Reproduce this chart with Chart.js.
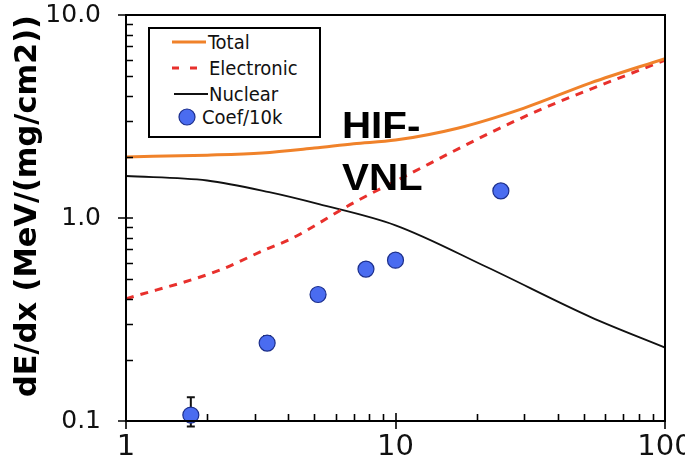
<!DOCTYPE html>
<html>
<head>
<meta charset="utf-8">
<script src="https://cdn.jsdelivr.net/npm/chart.js@4.4.1/dist/chart.umd.min.js"></script>
<style>
  html, body { margin: 0; padding: 0; background: #fff; overflow: hidden; }
  #wrap { position: relative; width: 720px; height: 476px; }
  #legend { position: absolute; left: 148px; top: 27px; width: 169px; height: 107px;
            border: 2px solid #000; background: #fff; font-family: 'DejaVu Sans Condensed', 'DejaVu Sans', sans-serif;
            font-size: 20px; color: #111; }
  .row { position: absolute; left: 0; height: 24px; line-height: 24px; white-space: nowrap; }
  .row svg { position: absolute; top: 0; }
  .row span { position: absolute; top: 0; }
  #note { position: absolute; left: 342px; top: 100px; font-family: 'Liberation Sans', Arial, sans-serif;
          font-weight: bold; font-size: 36px; line-height: 52px; color: #000;
          transform: scaleX(1.12); transform-origin: 0 0; }
</style>
</head>
<body>
<div id="wrap">
  <canvas id="c" width="720" height="476"></canvas>
  <div id="legend"></div>
  <div id="note">HIF-<br>VNL</div>
</div>
<script>
// ---- data ----
const xTickValues = [1, 10, 100];
const xTickLabels = ['1', '10', '100'];
const yTickValues = [0.1, 1, 10];
const yTickLabels = ['0.1', '1.0', '10.0'];

const seriesNames = ['Total', 'Electronic', 'Nuclear', 'Coef/10k'];

const totalX = [1, 2, 3.2, 5, 7, 10, 17, 30, 53, 100];
const totalY = [2.00, 2.04, 2.09, 2.21, 2.32, 2.42, 2.77, 3.48, 4.63, 6.1];

const elecX = [1, 2.2, 3.3, 4.1, 7, 10, 30, 100];
const elecY = [0.40, 0.55, 0.70, 0.79, 1.19, 1.52, 3.15, 6.0];

const nucX = [1, 2, 3.4, 5.2, 10, 22, 53, 100];
const nucY = [1.61, 1.53, 1.34, 1.17, 0.92, 0.57, 0.325, 0.23];

const coefX = [1.74, 3.34, 5.16, 7.77, 10.0, 24.6];
const coefY = [0.107, 0.242, 0.42, 0.56, 0.62, 1.36];
const coefLow = [0.094, 0.225, null, null, null, null];
const coefHigh = [0.131, 0.262, null, null, null, null];

const yTitle = 'dE/dx (MeV/(mg/cm2))';

// ---- build ----
const pts = (xs, ys) => xs.map((x, i) => ({ x: x, y: ys[i] }));
const colors = { total: '#f0822a', elec: '#e8302c', nuc: '#111111', coef: '#4a6cf0', coefBorder: '#1c2f8c' };

const errorBars = {
  id: 'errorBars',
  beforeDatasetDraw(chart, args) {
    if (args.index !== 3) return;
    const { ctx, scales: { x, y } } = chart;
    ctx.save();
    ctx.strokeStyle = '#111';
    ctx.lineWidth = 2;
    coefX.forEach((xv, i) => {
      if (coefLow[i] == null) return;
      const px = x.getPixelForValue(xv);
      const pl = y.getPixelForValue(coefLow[i]);
      const ph = y.getPixelForValue(coefHigh[i]);
      ctx.beginPath();
      ctx.moveTo(px, pl); ctx.lineTo(px, ph);
      ctx.moveTo(px - 4, pl); ctx.lineTo(px + 4, pl);
      ctx.moveTo(px - 4, ph); ctx.lineTo(px + 4, ph);
      ctx.stroke();
    });
    ctx.restore();
  }
};

const frameTicks = {
  id: 'frameTicks',
  afterDraw(chart) {
    const { ctx, chartArea: a, scales: { x, y } } = chart;
    ctx.save();
    ctx.strokeStyle = '#000';
    ctx.lineWidth = 2;
    ctx.strokeRect(a.left, a.top, a.right - a.left, a.bottom - a.top);
    ctx.lineWidth = 1.6;
    ctx.beginPath();
    [1, 10].forEach(d => {
      for (let m = 2; m <= 9; m++) {
        const px = Math.round(x.getPixelForValue(m * d)) + 0.5;
        ctx.moveTo(px, a.bottom); ctx.lineTo(px, a.bottom - 7);
      }
    });
    xTickValues.forEach(v => {
      const px = Math.round(x.getPixelForValue(v));
      ctx.moveTo(px, a.bottom + 8); ctx.lineTo(px, a.bottom - 8);
    });
    [0.1, 1].forEach(d => {
      for (let m = 2; m <= 9; m++) {
        const py = Math.round(y.getPixelForValue(m * d)) + 0.5;
        ctx.moveTo(a.left, py); ctx.lineTo(a.left + 7, py);
      }
    });
    yTickValues.forEach(v => {
      const py = Math.round(y.getPixelForValue(v));
      ctx.moveTo(a.left - 8, py); ctx.lineTo(a.left + 7, py);
    });
    ctx.stroke();
    ctx.restore();
  }
};

new Chart(document.getElementById('c'), {
  type: 'line',
  data: {
    datasets: [
      { label: seriesNames[0], data: pts(totalX, totalY), borderColor: colors.total, borderWidth: 3,
        pointRadius: 0, cubicInterpolationMode: 'monotone', order: 2 },
      { label: seriesNames[1], data: pts(elecX, elecY), borderColor: colors.elec, borderWidth: 3,
        borderDash: [8, 7], pointRadius: 0, cubicInterpolationMode: 'monotone', order: 3 },
      { label: seriesNames[2], data: pts(nucX, nucY), borderColor: colors.nuc, borderWidth: 1.8,
        pointRadius: 0, cubicInterpolationMode: 'monotone', order: 4 },
      { label: seriesNames[3], data: pts(coefX, coefY), showLine: false, pointRadius: 8, pointStyle: 'circle',
        pointBackgroundColor: colors.coef, pointBorderColor: colors.coefBorder, pointBorderWidth: 1.2,
        clip: false, order: 1 }
    ]
  },
  options: {
    responsive: false,
    animation: false,
    layout: { padding: { left: 0, right: 55, top: 15, bottom: 0 } },
    plugins: { legend: { display: false }, tooltip: { enabled: false } },
    scales: {
      x: {
        type: 'logarithmic', min: 1, max: 100,
        afterBuildTicks: s => { s.ticks = xTickValues.map(v => ({ value: v })); },
        afterFit: s => { s.height = 55; s.paddingLeft = 0; s.paddingRight = 0; },
        grid: { display: false },
        border: { display: false },
        ticks: {
          autoSkip: false, maxRotation: 0, padding: 1, color: '#111',
          font: { family: 'DejaVu Sans', size: 29 },
          callback: (v) => { const i = xTickValues.indexOf(v); return i >= 0 ? xTickLabels[i] : ''; }
        }
      },
      y: {
        type: 'logarithmic', min: 0.1, max: 10,
        afterBuildTicks: s => { s.ticks = yTickValues.map(v => ({ value: v })); },
        afterFit: s => { s.width = 126; s.paddingTop = 0; s.paddingBottom = 0; },
        grid: { display: false },
        border: { display: false },
        ticks: {
          autoSkip: false, padding: 17, color: '#111',
          font: { family: 'DejaVu Sans', size: 25 },
          callback: (v) => { const i = yTickValues.indexOf(v); return i >= 0 ? yTickLabels[i] : ''; }
        },
        title: {
          display: true, text: yTitle, color: '#000', align: 'end',
          font: { family: 'DejaVu Sans', weight: 'bold', size: 30.4 },
          padding: { top: 10, bottom: 0 }
        }
      }
    }
  },
  plugins: [errorBars, frameTicks]
});

// ---- HTML legend built from the series names ----
const legend = document.getElementById('legend');
const rows = [
  { name: seriesNames[0], top: 1,  sample: '<svg width="40" height="24" style="left:20px"><line x1="2" y1="12" x2="36" y2="12" stroke="' + colors.total + '" stroke-width="3"/></svg>', textLeft: 58 },
  { name: seriesNames[1], top: 27, sample: '<svg width="40" height="24" style="left:20px"><line x1="2" y1="12" x2="27" y2="12" stroke="' + colors.elec + '" stroke-width="3" stroke-dasharray="7,11"/></svg>', textLeft: 59 },
  { name: seriesNames[2], top: 53, sample: '<svg width="40" height="24" style="left:20px"><line x1="4" y1="12" x2="38" y2="12" stroke="' + colors.nuc + '" stroke-width="1.8"/></svg>', textLeft: 59 },
  { name: seriesNames[3], top: 76, sample: '<svg width="40" height="24" style="left:20px"><circle cx="17" cy="12" r="8" fill="' + colors.coef + '" stroke="' + colors.coefBorder + '" stroke-width="1.2"/></svg>', textLeft: 52 }
];
rows.forEach(r => {
  const d = document.createElement('div');
  d.className = 'row';
  d.style.top = r.top + 'px';
  d.innerHTML = r.sample + '<span style="left:' + r.textLeft + 'px">' + r.name + '</span>';
  legend.appendChild(d);
});
</script>
</body>
</html>
